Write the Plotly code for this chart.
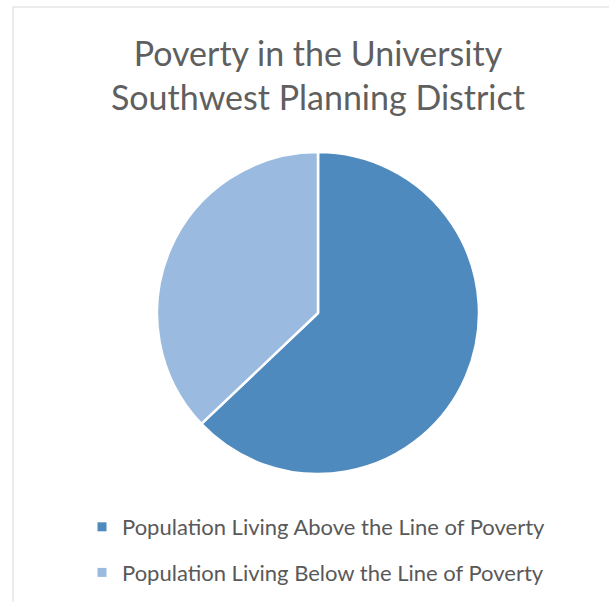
import plotly.graph_objects as go

labels = ["Population Living Above the Line of Poverty",
          "Population Living Below the Line of Poverty"]
shares = [62.9, 37.1]
colors = ["#4F8ABF", "#9BBAE0"]
title = "Poverty in the University<br>Southwest Planning District"

W, H = 609, 602

fig = go.Figure()
fig.add_trace(go.Pie(
    labels=labels, values=shares, sort=False, direction="clockwise", rotation=0,
    marker=dict(colors=colors, line=dict(color="white", width=2.5)),
    textinfo="none", hoverinfo="label+percent", showlegend=False,
    domain=dict(x=[157 / W, 479 / W], y=[1 - 474 / H, 1 - 152 / H]),
))

# legend entries: one group per slice so the gap between them can be set
for lab, col in zip(labels, colors):
    fig.add_trace(go.Scatter(x=[None], y=[None], mode="markers", name=lab,
                             legendgroup=lab, hoverinfo="skip",
                             marker=dict(symbol="square", size=9, color=col)))

fig.update_layout(
    width=W, height=H,
    margin=dict(l=0, r=0, t=0, b=0),
    paper_bgcolor="white", plot_bgcolor="white",
    xaxis=dict(visible=False), yaxis=dict(visible=False),
    font=dict(family="Lato, 'Open Sans', sans-serif", color="#595959"),
    showlegend=True,
    legend=dict(x=82 / W, xanchor="left", y=1 - 506 / H, yanchor="top",
                font=dict(size=22, color="#595959"), itemclick=False,
                tracegroupgap=14),
    annotations=[dict(text=title, x=318 / W, y=1 - 74 / H, xref="paper", yref="paper",
                      xanchor="center", yanchor="middle", showarrow=False,
                      font=dict(size=34, color="#5F5F5F"))],
    shapes=[dict(type="rect", xref="paper", yref="paper",
                 x0=13 / W, x1=1.05, y0=-0.05, y1=1 - 7 / H,
                 line=dict(color="#D9D9D9", width=1))],
)

fig.write_html("out.html", config={"displayModeBar": False},
               post_script="document.body.style.margin='0';")
